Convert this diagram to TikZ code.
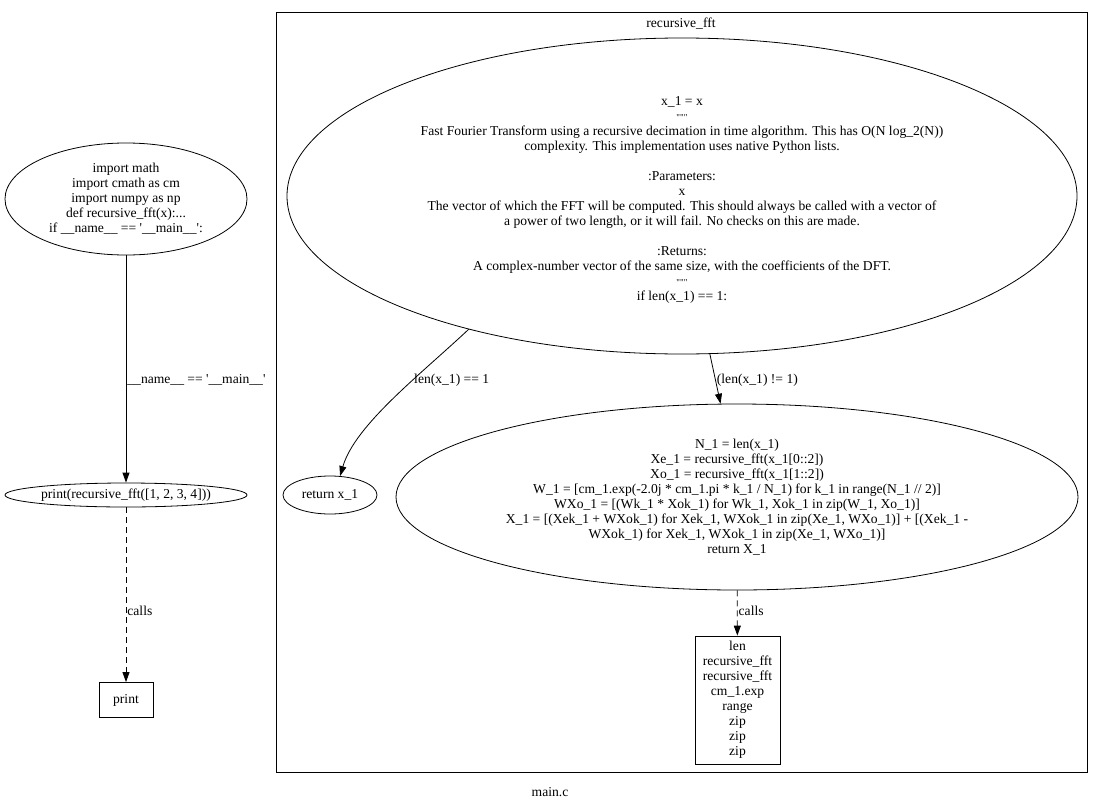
\documentclass[tikz,border=0pt]{standalone}
\usepackage{fontspec}
\setmainfont{Liberation Serif}
\usetikzlibrary{shapes.geometric, arrows.meta}

\newcommand{\sq}{\textquotesingle}
\newcommand{\tq}{\textquotedbl\textquotedbl\textquotedbl}

\begin{document}
\begin{tikzpicture}[x=1pt, y=-1pt, line width=0.8pt,
    every node/.style={font=\fontsize{13.6}{15}\selectfont, align=center, inner sep=0pt},
    blk/.style={ellipse, draw},
    fn/.style={rectangle, draw},
    edge/.style={-{Triangle[length=10pt, width=7pt]}},
    call/.style={edge, dash pattern=on 6pt off 4pt}]
\useasboundingbox (0,0) rectangle (1099,808);

\draw (276,12) rectangle (1087,772);
\node (clus) at (681,24) {recursive\_fft};
\node (file) at (550,792) {main.c};

\node[blk, minimum width=242, minimum height=112] (mod) at (126,199) {import math\\import cmath as cm\\import numpy as np\\def recursive\_fft(x):...\\if \_\_name\_\_ == \sq\_\_main\_\_\sq:};
\node[blk, minimum width=242, minimum height=24] (prn) at (126,495) {print(recursive\_fft([1, 2, 3, 4]))};
\node[fn, minimum width=54, minimum height=35] (prnc) at (126,700) {print};

\node[blk, minimum width=790, minimum height=316] (fft) at (682,196) {\rule{0pt}{16pt}x\_1 = x\\{\small\tq}\\Fast Fourier Transform using a recursive decimation in time algorithm. This has O(N log\_2(N))\\complexity. This implementation uses native Python lists.\\[15pt]:Parameters:\\x\\The vector of which the FFT will be computed. This should always be called with a vector of\\a power of two length, or it will fail. No checks on this are made.\\[15pt]:Returns:\\A complex-number vector of the same size, with the coefficients of the DFT.\\{\small\tq}\\if len(x\_1) == 1:};
\node[blk, minimum width=94, minimum height=38] (ret) at (330,495) {return x\_1};
\node[blk, minimum width=682, minimum height=186, inner xsep=-25pt] (body) at (737,497) {N\_1 = len(x\_1)\\Xe\_1 = recursive\_fft(x\_1[0::2])\\Xo\_1 = recursive\_fft(x\_1[1::2])\\W\_1 = [cm\_1.exp(-2.0j * cm\_1.pi * k\_1 / N\_1) for k\_1 in range(N\_1 // 2)]\\WXo\_1 = [(Wk\_1 * Xok\_1) for Wk\_1, Xok\_1 in zip(W\_1, Xo\_1)]\\X\_1 = [(Xek\_1 + WXok\_1) for Xek\_1, WXok\_1 in zip(Xe\_1, WXo\_1)] + [(Xek\_1 -\\WXok\_1) for Xek\_1, WXok\_1 in zip(Xe\_1, WXo\_1)]\\return X\_1};
\node[fn, minimum width=85, minimum height=128] (calls) at (737.5,700) {len\\recursive\_fft\\recursive\_fft\\cm\_1.exp\\range\\zip\\zip\\zip};

\draw[edge] (mod) -- (prn) node[pos=0.55, right=1pt] {\_\_name\_\_ == \sq\_\_main\_\_\sq};
\draw[call] (prn) -- (prnc) node[pos=0.59, right=1pt] {calls};
\draw[edge] (fft.212) .. controls (420,375) and (355,425) .. (ret.62) node[pos=0.36, right=1pt] {len(x\_1) == 1};
\draw[edge] (fft.280) -- (body.100) node[pos=0.53, right=1pt] {(len(x\_1) != 1)};
\draw[call] (body) -- (calls) node[pos=0.46, right=1pt] {calls};
\end{tikzpicture}
\end{document}
